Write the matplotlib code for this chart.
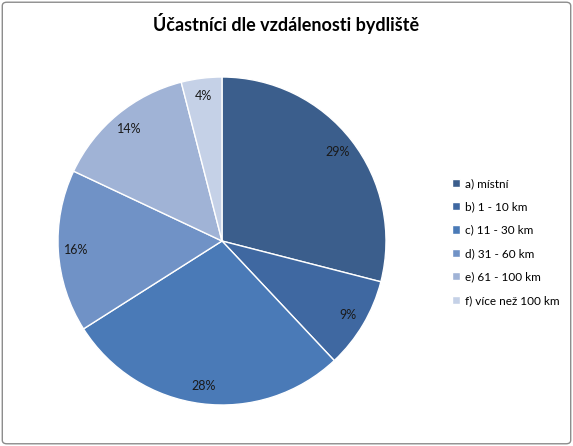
import matplotlib
matplotlib.use('Agg')
import matplotlib.pyplot as plt
from matplotlib.patches import FancyBboxPatch

# Data
categories = ['a) místní', 'b) 1 - 10 km', 'c) 11 - 30 km', 'd) 31 - 60 km',
              'e) 61 - 100 km', 'f) více než 100 km']
shares = [29, 9, 28, 16, 14, 4]
colors = ['#3B5E8C', '#3F68A1', '#4A7AB7', '#7092C6', '#A0B3D6', '#C5D1E7']
title = 'Účastníci dle vzdálenosti bydliště'

plt.rcParams['font.family'] = ['Lato', 'DejaVu Sans']

W, H = 573, 446
fig = plt.figure(figsize=(W / 100, H / 100), dpi=100)

# outer frame
fig.patches.append(FancyBboxPatch((0.004, 0.005), 0.992, 0.99,
                                  boxstyle='round,pad=0,rounding_size=0.008',
                                  transform=fig.transFigure, fill=False,
                                  edgecolor='#8c8c8c', linewidth=1.0))

cx, cy, r = 222, 241, 164
ax = fig.add_axes([(cx - r) / W, (H - cy - r) / H, 2 * r / W, 2 * r / H])
wedges, texts, autotexts = ax.pie(
    shares, colors=colors, startangle=90, counterclock=False, radius=1.0,
    autopct='%d%%', pctdistance=0.89,
    wedgeprops=dict(edgecolor='white', linewidth=1.0),
    textprops=dict(fontsize=9, color='#1a1a1a'))
ax.set_xlim(-1, 1)
ax.set_ylim(-1, 1)
ax.set_aspect('equal')
ax.axis('off')

fig.text(0.5, 1 - 24 / H, title, ha='center', va='center',
         fontsize=13, fontweight='bold', color='black')

fig.legend(wedges, categories, loc='upper left',
           bbox_to_anchor=(446 / W, 1 - 172 / H), frameon=False,
           fontsize=8.5, handlelength=0.7, handleheight=0.7,
           handletextpad=0.45, labelspacing=1.05, borderpad=0)

fig.savefig('out.png', dpi=100)
